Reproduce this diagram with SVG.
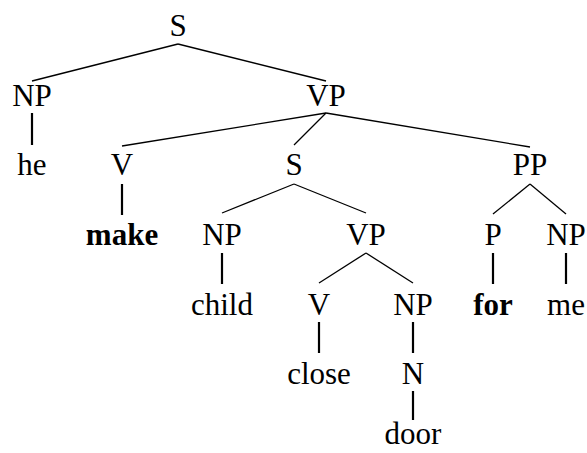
<svg xmlns="http://www.w3.org/2000/svg" width="587" height="453" viewBox="0 0 587 453">
<rect width="587" height="453" fill="#fff"/>
<g id="connectors" stroke="#000" fill="none">
<g stroke-width="1.3">
<line x1="178" y1="44" x2="32" y2="81"/>
<line x1="178" y1="44" x2="326" y2="81"/>
<line x1="326" y1="113" x2="122" y2="146"/>
<line x1="326" y1="113" x2="294" y2="145"/>
<line x1="326" y1="113" x2="530" y2="147"/>
<line x1="294" y1="184" x2="222" y2="213"/>
<line x1="294" y1="184" x2="366" y2="213"/>
<line x1="530" y1="184" x2="493" y2="214"/>
<line x1="530" y1="184" x2="566" y2="214"/>
<line x1="366" y1="253" x2="319" y2="283"/>
<line x1="366" y1="253" x2="413" y2="283"/>
</g>
<g stroke-width="2.2">
<line x1="32" y1="113" x2="32" y2="145"/>
<line x1="122" y1="184" x2="122" y2="215"/>
<line x1="222" y1="253" x2="222" y2="284"/>
<line x1="493" y1="253" x2="493" y2="284"/>
<line x1="566" y1="253" x2="566" y2="284"/>
<line x1="319" y1="322" x2="319" y2="353"/>
<line x1="413" y1="322" x2="413" y2="353"/>
<line x1="413" y1="391" x2="413" y2="420"/>
</g>
</g>
<g id="n-S"><text x="178" y="36" font-family="Liberation Serif, Tinos, Times New Roman, serif" font-size="31" text-anchor="middle">S</text></g>
<g id="n-NP1"><text x="32" y="106" font-family="Liberation Serif, Tinos, Times New Roman, serif" font-size="31" text-anchor="middle">NP</text></g>
<g id="n-VP1"><text x="326" y="106" font-family="Liberation Serif, Tinos, Times New Roman, serif" font-size="31" text-anchor="middle">VP</text></g>
<g id="n-he"><text x="32" y="175" font-family="Liberation Serif, Tinos, Times New Roman, serif" font-size="31" text-anchor="middle">he</text></g>
<g id="n-V1"><text x="122" y="175" font-family="Liberation Serif, Tinos, Times New Roman, serif" font-size="31" text-anchor="middle">V</text></g>
<g id="n-S2"><text x="294" y="175" font-family="Liberation Serif, Tinos, Times New Roman, serif" font-size="31" text-anchor="middle">S</text></g>
<g id="n-PP"><text x="530" y="175" font-family="Liberation Serif, Tinos, Times New Roman, serif" font-size="31" text-anchor="middle">PP</text></g>
<g id="n-make"><text x="122" y="245" font-family="Liberation Serif, Tinos, Times New Roman, serif" font-size="31" font-weight="bold" text-anchor="middle">make</text></g>
<g id="n-NP2"><text x="222" y="245" font-family="Liberation Serif, Tinos, Times New Roman, serif" font-size="31" text-anchor="middle">NP</text></g>
<g id="n-VP2"><text x="366" y="245" font-family="Liberation Serif, Tinos, Times New Roman, serif" font-size="31" text-anchor="middle">VP</text></g>
<g id="n-P"><text x="493" y="245" font-family="Liberation Serif, Tinos, Times New Roman, serif" font-size="31" text-anchor="middle">P</text></g>
<g id="n-NP3"><text x="566" y="245" font-family="Liberation Serif, Tinos, Times New Roman, serif" font-size="31" text-anchor="middle">NP</text></g>
<g id="n-child"><text x="222" y="315" font-family="Liberation Serif, Tinos, Times New Roman, serif" font-size="31" text-anchor="middle">child</text></g>
<g id="n-V2"><text x="319" y="315" font-family="Liberation Serif, Tinos, Times New Roman, serif" font-size="31" text-anchor="middle">V</text></g>
<g id="n-NP4"><text x="413" y="315" font-family="Liberation Serif, Tinos, Times New Roman, serif" font-size="31" text-anchor="middle">NP</text></g>
<g id="n-for"><text x="493" y="315" font-family="Liberation Serif, Tinos, Times New Roman, serif" font-size="31" font-weight="bold" text-anchor="middle">for</text></g>
<g id="n-me"><text x="566" y="315" font-family="Liberation Serif, Tinos, Times New Roman, serif" font-size="31" text-anchor="middle">me</text></g>
<g id="n-close"><text x="319" y="384" font-family="Liberation Serif, Tinos, Times New Roman, serif" font-size="31" text-anchor="middle">close</text></g>
<g id="n-N"><text x="413" y="384" font-family="Liberation Serif, Tinos, Times New Roman, serif" font-size="31" text-anchor="middle">N</text></g>
<g id="n-door"><text x="413" y="444" font-family="Liberation Serif, Tinos, Times New Roman, serif" font-size="31" text-anchor="middle">door</text></g>
</svg>
